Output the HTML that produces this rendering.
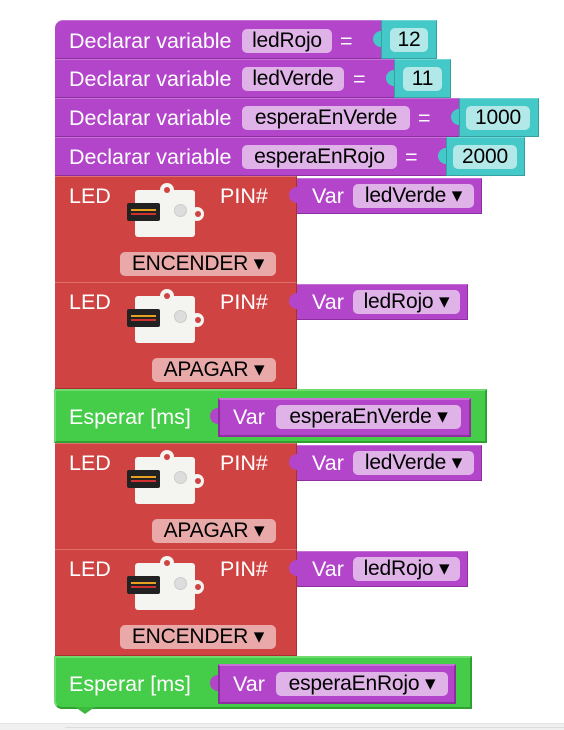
<!DOCTYPE html>
<html><head><meta charset="utf-8"><style>
body{margin:0;width:564px;height:730px;background:#fff;position:relative;overflow:hidden;font-family:"Liberation Sans",sans-serif;}
.b{position:absolute;box-sizing:border-box;}
.p{background:#b245c9;border-top:1px solid #c870d8;border-bottom:1px solid #8e2fa0;}
.t{background:#45c8c8;border:1px solid #35a0a0;border-top-color:#70d8d8;}
.r{background:#d04343;border-top:1px solid #e07070;border-bottom:1px solid #a83030;border-right:1px solid #a83030;}
.g{background:#45cc48;border:2px solid #70dc70;border-bottom-color:#30a030;border-right-color:#30a030;}
.tx{position:absolute;color:#fff;font-size:21.5px;line-height:24px;white-space:nowrap;}
.f{position:absolute;border-radius:5px;font-size:21px;line-height:24px;color:#000;text-align:center;white-space:nowrap;box-sizing:border-box;letter-spacing:-0.2px}
.fp{background:#dfb2e8;}
.ft{background:#b2e8e8;}
.fr{background:#eaa9a9;}
.notch{position:absolute;width:0;height:0;border-left:10px solid transparent;border-right:10px solid transparent;}
.puz{position:absolute;width:8px;height:16px;border-radius:8px 0 0 8px;}
</style></head><body>

<!-- declarations -->
<div class="b p" style="left:55px;top:20px;width:326px;height:39px;border-radius:8px 0 0 0"></div>
<div class="tx" style="left:69px;top:29px">Declarar variable</div>
<div class="f fp" style="left:242px;top:29px;width:90px">ledRojo</div>
<div class="tx" style="left:340px;top:29px">=</div>
<div class="b t" style="left:381px;top:20px;width:56px;height:39px"></div>
<div class="puz" style="left:373px;top:31px;background:#45c8c8"></div>
<div class="f ft" style="left:390px;top:28px;width:38px">12</div>

<div class="b p" style="left:55px;top:59px;width:339px;height:39px"></div>
<div class="tx" style="left:69px;top:67px">Declarar variable</div>
<div class="f fp" style="left:242px;top:67px;width:102px">ledVerde</div>
<div class="tx" style="left:353px;top:67px">=</div>
<div class="b t" style="left:394px;top:59px;width:57px;height:39px"></div>
<div class="puz" style="left:386px;top:70px;background:#45c8c8"></div>
<div class="f ft" style="left:403px;top:67px;width:39px">11</div>

<div class="b p" style="left:55px;top:98px;width:404px;height:39px"></div>
<div class="tx" style="left:69px;top:106px">Declarar variable</div>
<div class="f fp" style="left:242px;top:106px;width:168px">esperaEnVerde</div>
<div class="tx" style="left:418px;top:106px">=</div>
<div class="b t" style="left:459px;top:98px;width:80px;height:39px"></div>
<div class="puz" style="left:451px;top:109px;background:#45c8c8"></div>
<div class="f ft" style="left:466px;top:106px;width:64px">1000</div>

<div class="b p" style="left:55px;top:137px;width:391px;height:39px"></div>
<div class="tx" style="left:69px;top:145px">Declarar variable</div>
<div class="f fp" style="left:242px;top:145px;width:155px">esperaEnRojo</div>
<div class="tx" style="left:405px;top:145px">=</div>
<div class="b t" style="left:446px;top:137px;width:79px;height:39px"></div>
<div class="puz" style="left:438px;top:148px;background:#45c8c8"></div>
<div class="f ft" style="left:453px;top:145px;width:64px">2000</div>

<div id="leds"></div>

<!-- green 1 -->
<div class="b g" style="left:54px;top:389px;width:433px;height:54px"></div>
<div class="tx" style="left:69px;top:405px">Esperar [ms]</div>
<div class="b p" style="left:218px;top:398px;width:253px;height:39px;border:2px solid #8e2fa0;border-top-color:#c870d8"></div>
<div class="puz" style="left:210px;top:408px;background:#b245c9"></div>
<div class="tx" style="left:233px;top:405px">Var</div>
<div class="f fp" style="left:276px;top:405px;width:185px">esperaEnVerde ▾</div>

<!-- green 2 -->
<div class="b g" style="left:54px;top:656px;width:418px;height:53px;border-radius:0 0 0 8px"></div>
<div class="notch" style="left:75px;top:707px;border-top:7px solid #3fb83f"></div>
<div class="tx" style="left:69px;top:672px">Esperar [ms]</div>
<div class="b p" style="left:218px;top:664px;width:238px;height:40px;border:2px solid #8e2fa0;border-top-color:#c870d8"></div>
<div class="puz" style="left:210px;top:675px;background:#b245c9"></div>
<div class="tx" style="left:233px;top:672px">Var</div>
<div class="f fp" style="left:276px;top:672px;width:172px">esperaEnRojo ▾</div>

<div class="b" style="left:0;top:723px;width:564px;height:7px;background:#f0f0f0;border-top:1px solid #e4e4e4"></div>
<div class="b" style="left:65px;top:727px;width:499px;height:1px;background:#ddd"></div>

<script>
var leds=[[176,'ledVerde',185,'ENCENDER',120,156],[282,'ledRojo',171,'APAGAR',152,124],[443,'ledVerde',185,'APAGAR',152,124],[549,'ledRojo',171,'ENCENDER',120,156]];
var h='';
leds.forEach(function(l){
var y=l[0];
h+='<div class="b r" style="left:55px;top:'+y+'px;width:242px;height:107px"></div>';
h+='<div class="tx" style="left:69px;top:'+(y+8)+'px">LED</div>';
h+='<div class="tx" style="left:220px;top:'+(y+8)+'px">PIN#</div>';
h+='<div class="b" style="left:135px;top:'+(y+14)+'px;width:60px;height:47px;background:#f4f4f0;border-radius:3px"></div>';
h+='<div class="b" style="left:160px;top:'+(y+7)+'px;width:14px;height:14px;background:#f4f4f0;border-radius:7px"></div>';
h+='<div class="b" style="left:164px;top:'+(y+11)+'px;width:6px;height:6px;background:#d04343;border-radius:3px"></div>';
h+='<div class="b" style="left:190px;top:'+(y+31)+'px;width:14px;height:14px;background:#f4f4f0;border-radius:7px"></div>';
h+='<div class="b" style="left:195px;top:'+(y+35)+'px;width:6px;height:6px;background:#d04343;border-radius:3px"></div>';
h+='<div class="b" style="left:174px;top:'+(y+28)+'px;width:13px;height:13px;background:#ddd;border-radius:7px;border:1px solid #ccc"></div>';
h+='<div class="b" style="left:127px;top:'+(y+27)+'px;width:33px;height:18px;background:#222;border-radius:2px"></div>';
h+='<div class="b" style="left:131px;top:'+(y+33)+'px;width:25px;height:2px;background:#e8a020"></div>';
h+='<div class="b" style="left:131px;top:'+(y+37)+'px;width:25px;height:2px;background:#d03030"></div>';
h+='<div class="f fr" style="left:'+l[4]+'px;top:'+(y+76)+'px;width:'+l[5]+'px">'+l[3]+' ▾</div>';
h+='<div class="b p" style="left:297px;top:'+(y+2)+'px;width:'+l[2]+'px;height:36px;border-right:1px solid #8e2fa0"></div>';
h+='<div class="puz" style="left:289px;top:'+(y+11)+'px;background:#b245c9"></div>';
h+='<div class="tx" style="left:312px;top:'+(y+8)+'px">Var</div>';
h+='<div class="f fp" style="left:353px;top:'+(y+8)+'px;width:'+(l[2]-64)+'px">'+l[1]+' ▾</div>';
});
document.getElementById('leds').innerHTML=h;
</script>
</body></html>
